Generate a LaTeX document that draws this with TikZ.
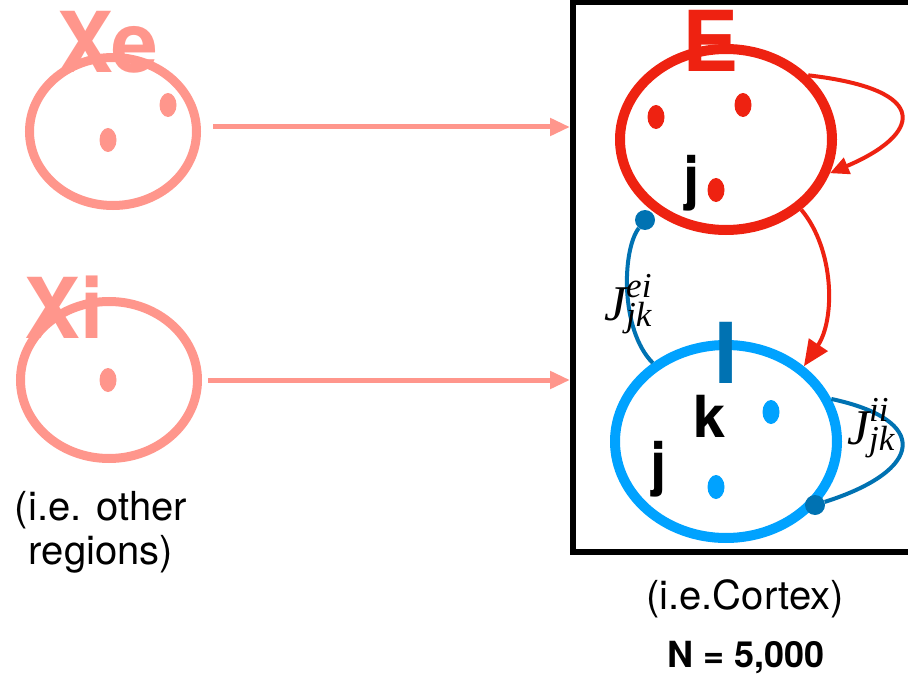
\documentclass[tikz,border=0pt]{standalone}
\usepackage{amsmath}
\usepackage{fontspec}
\setmainfont{TeX Gyre Heros}
\newfontfamily\wfont{Liberation Serif}
\usepackage{tikz}
\usetikzlibrary{shapes.geometric,arrows.meta}
\definecolor{regsalmon}{RGB}{255,150,140}
\definecolor{exred}{RGB}{238,34,17}
\definecolor{inblue}{RGB}{0,162,255}
\definecolor{syblue}{RGB}{0,114,178}
\newcommand{\wsym}[1]{$\text{\wfont\itshape J}^{\text{\wfont\itshape #1}}_{\text{\wfont\itshape jk}}$}
\tikzset{
  popfont/.style={font=\fontsize{84}{84}\selectfont\bfseries, inner sep=0pt},
  popring/.style={ellipse, draw, line width=10pt, inner sep=0pt},
  popdot/.style={ellipse, inner sep=0pt, minimum width=17pt, minimum height=24pt},
  cellfont/.style={font=\fontsize{58}{58}\selectfont\bfseries, inner sep=0pt},
  capfont/.style={font=\fontsize{40}{44}\selectfont, inner sep=0pt, align=center},
  feedarrow/.style={regsalmon, line width=5pt, -{Triangle[length=20pt,width=17pt]}},
  excarrow/.style={exred, line width=4pt, -{Triangle[length=19pt,width=17pt]}},
  synline/.style={syblue, line width=4pt},
  syndot/.style={circle, fill=syblue, inner sep=0pt, minimum size=20pt},
  wlabel/.style={font=\fontsize{50}{50}\selectfont, inner sep=0pt},
}

\begin{document}
\begin{tikzpicture}[x=1pt, y=-1pt]
  \useasboundingbox (0,0) rectangle (908,674);

  % Cortex frame
  \node[draw, line width=6pt, inner sep=0pt, minimum width=387pt, minimum height=550pt] (cortex) at (766.5,277) {};

  % Other regions
  \node[popring, regsalmon, line width=9pt, minimum width=167pt, minimum height=148pt] (Xe) at (113,131.5) {};
  \node[popring, regsalmon, line width=9pt, minimum width=177pt, minimum height=157pt] (Xi) at (109,380) {};
  \node[popdot, fill=regsalmon] (xe1) at (168,105) {};
  \node[popdot, fill=regsalmon] (xe2) at (108,140) {};
  \node[popdot, fill=regsalmon] (xi1) at (108,380) {};
  \node[popfont, text=regsalmon, anchor=base] (lXe) at (108,73) {Xe};
  \node[popfont, text=regsalmon, anchor=base] (lXi) at (64,338) {Xi};
  \node[capfont, anchor=north] (other) at (101,491) {(i.e. other\\regions)};

  % Cortex populations
  \node[popring, exred, minimum width=212pt, minimum height=181pt] (E) at (726,139.5) {};
  \node[popring, inblue, minimum width=222pt, minimum height=193pt] (I) at (726,441.5) {};
  \node[popdot, fill=exred] (e1) at (656,117) {};
  \node[popdot, fill=exred] (e2) at (743,105) {};
  \node[popdot, fill=exred] (e3) at (716,190) {};
  \node[popdot, fill=inblue] (i1) at (771,412) {};
  \node[popdot, fill=inblue] (i2) at (716,487) {};
  \node[popfont, text=exred, anchor=base] (lE) at (711,72) {E};
  \node[popfont, text=syblue, anchor=base] (lI) at (726,383) {I};
  \node[cellfont, anchor=base] (jE) at (692,199) {j};
  \node[cellfont, anchor=base] (kI) at (710,437) {k};
  \node[cellfont, anchor=base] (jI) at (659,484) {j};

  % Inputs
  \draw[feedarrow] ([xshift=12pt,yshift=4.5pt]Xe.east) -- ([yshift=4.5pt]Xe.east -| cortex.west);
  \draw[feedarrow] ([xshift=6pt]Xi.east) -- (Xi -| cortex.west);

  % Recurrent connections
  \draw[excarrow] (E.38) .. controls (935,90) and (920,135) .. (E.-18);
  \draw[excarrow, -{Triangle[length=26pt,width=22pt]}] (E.-43) .. controls (835,250) and (835,320) .. (I.44);
  \node[syndot] (s1) at (645,220) {};
  \node[syndot] (s2) at (815,505) {};
  \draw[synline] (s1) .. controls (622,250) and (620,330) .. (I.133);
  \draw[synline] (I.22) .. controls (930,420) and (925,470) .. (s2);
  \node[wlabel] (Jei) at (628,304) {\wsym{ei}};
  \node[wlabel] (Jii) at (871,428) {\wsym{ii}};

  % Captions
  \node[capfont, anchor=base] (ctxlab) at (745,609) {(i.e.Cortex)};
  \node[font=\fontsize{36}{36}\selectfont\bfseries, inner sep=0pt, anchor=base] (nlab) at (746,667) {N = 5,000};
\end{tikzpicture}
\end{document}
